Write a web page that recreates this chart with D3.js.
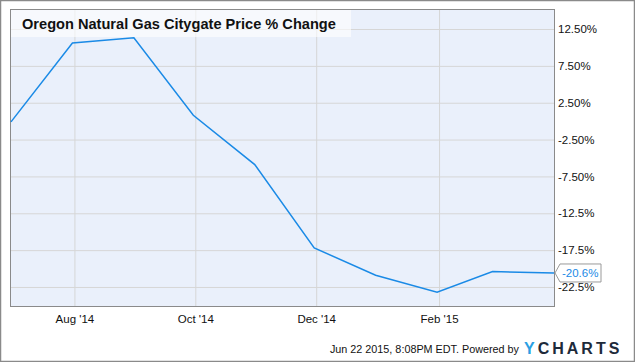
<!DOCTYPE html>
<html>
<head>
<meta charset="utf-8">
<script src="https://cdn.jsdelivr.net/npm/d3@7"></script>
<style>
  html, body { margin: 0; padding: 0; background: #fff; }
  svg { display: block; font-family: "Liberation Sans", Arial, sans-serif; }
</style>
</head>
<body>
<svg id="chart" width="635" height="362"></svg>
<script>
// monthly values, dated at month end
const dates = ['2014-06-30', '2014-07-31', '2014-08-31', '2014-09-30', '2014-10-31',
    '2014-11-30', '2014-12-31', '2015-01-31', '2015-02-28', '2015-03-31'];
const values = [-0.1, 10.6, 11.3, 0.8, -5.9, -17.2, -20.9, -23.2, -20.4, -20.6];

const yTicks = [12.5, 7.5, 2.5, -2.5, -7.5, -12.5, -17.5, -22.5];
const yTickLabels = ['12.50%', '7.50%', '2.50%', '-2.50%', '-7.50%', '-12.5%', '-17.5%', '-22.5%'];
const xTicks = ['2014-08-01', '2014-10-01', '2014-12-01', '2015-02-01'];
const xTickLabels = ["Aug '14", "Oct '14", "Dec '14", "Feb '15"];

const title = 'Oregon Natural Gas Citygate Price % Change';
const lastLabel = '-20.6%';

const parse = d3.timeParse('%Y-%m-%d');
const data = dates.map((d, i) => ({date: parse(d), value: values[i]}));

const plot = {left: 11, top: 10, right: 554, bottom: 306};

const svg = d3.select('#chart');

// outer frame
svg.append('rect')
    .attr('x', 0.5).attr('y', 0.5)
    .attr('width', 634).attr('height', 361)
    .attr('fill', '#fff')
    .attr('stroke', '#8a8a8a')
    .attr('stroke-width', 1.5);

const x = d3.scaleTime()
    .domain(d3.extent(data, d => d.date))
    .range([plot.left, plot.right]);

const y = d3.scaleLinear()
    .domain([-25.08, 15.08])
    .range([plot.bottom, plot.top]);

svg.append('rect')
    .attr('x', plot.left).attr('y', plot.top)
    .attr('width', plot.right - plot.left)
    .attr('height', plot.bottom - plot.top)
    .attr('fill', '#eaf0fb');

// grid
const xAxis = d3.axisBottom(x)
    .tickValues(xTicks.map(parse))
    .tickSize(-(plot.bottom - plot.top))
    .tickFormat((d, i) => xTickLabels[i]);

const gx = svg.append('g')
    .attr('transform', `translate(0,${plot.bottom})`)
    .call(xAxis);
gx.select('.domain').remove();
gx.selectAll('.tick line').attr('stroke', '#d6d6d6').attr('stroke-width', 1);
gx.selectAll('.tick text')
    .attr('y', 9)
    .attr('dy', '0.71em')
    .attr('fill', '#111')
    .style('font-size', '11.5px');

const yAxis = d3.axisRight(y)
    .tickValues(yTicks)
    .tickSize(-(plot.right - plot.left))
    .tickFormat((d, i) => yTickLabels[i]);

const gy = svg.append('g')
    .attr('transform', `translate(${plot.right},0)`)
    .call(yAxis);
gy.select('.domain').remove();
gy.selectAll('.tick line').attr('stroke', '#d6d6d6').attr('stroke-width', 1);
gy.selectAll('.tick text')
    .attr('x', 4)
    .attr('fill', '#111')
    .style('font-size', '11.5px');

// plot border
svg.append('rect')
    .attr('x', plot.left - 0.5).attr('y', plot.top - 0.5)
    .attr('width', plot.right - plot.left + 1)
    .attr('height', plot.bottom - plot.top + 1)
    .attr('fill', 'none')
    .attr('stroke', '#8a8a8a')
    .attr('stroke-width', 1);

// title box
svg.append('rect')
    .attr('x', plot.left).attr('y', plot.top)
    .attr('width', 340).attr('height', 27)
    .attr('fill', '#fff')
    .attr('fill-opacity', 0.6);

svg.append('text')
    .attr('x', 22).attr('y', 28.5)
    .attr('fill', '#111')
    .style('font-size', '14.6px')
    .style('font-weight', 'bold')
    .text(title);

// line
const line = d3.line()
    .x(d => x(d.date))
    .y(d => y(d.value));

svg.append('path')
    .datum(data)
    .attr('d', line)
    .attr('fill', 'none')
    .attr('stroke', '#1a8ae6')
    .attr('stroke-width', 1.5);

// last value flag
const last = data[data.length - 1];
const lx = x(last.date) + 1, ly = y(last.value);
svg.append('path')
    .attr('d', `M${lx},${ly} L${lx + 5},${ly - 9} L${lx + 46},${ly - 9} L${lx + 46},${ly + 9} L${lx + 5},${ly + 9} Z`)
    .attr('fill', '#fff')
    .attr('stroke', '#999')
    .attr('stroke-width', 1);
svg.append('text')
    .attr('x', lx + 7).attr('y', ly)
    .attr('dy', '0.35em')
    .attr('fill', '#1a8ae6')
    .style('font-size', '11.5px')
    .text(lastLabel);

// footer
svg.append('text')
    .attr('x', 519).attr('y', 353)
    .attr('text-anchor', 'end')
    .attr('fill', '#111')
    .style('font-size', '10.8px')
    .text('Jun 22 2015, 8:08PM EDT.  Powered by');

const logo = svg.append('text')
    .attr('x', 524).attr('y', 353.5)
    .style('font-size', '16px')
    .style('font-weight', 'bold')
    .style('letter-spacing', '3px');
logo.append('tspan').attr('fill', '#2a9fe3').text('Y');
logo.append('tspan').attr('fill', '#1d2a3a').text('CHARTS');
</script>
</body>
</html>
